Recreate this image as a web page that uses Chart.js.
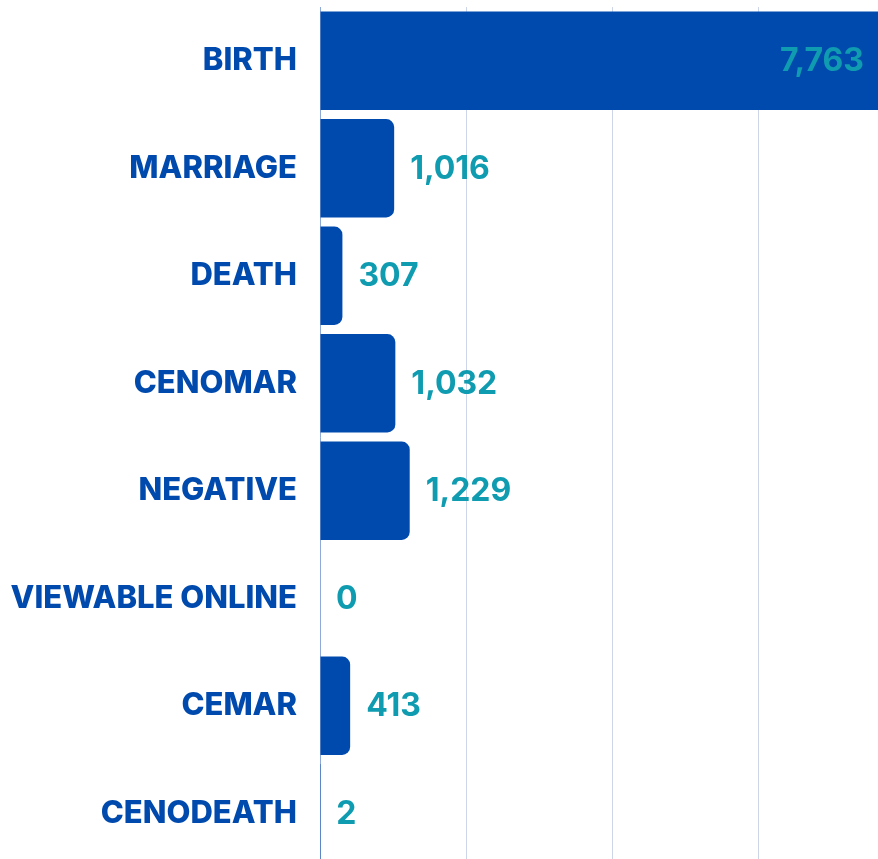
<!DOCTYPE html>
<html>
<head>
<meta charset="utf-8">
<script src="https://cdn.jsdelivr.net/npm/chart.js@4/dist/chart.umd.min.js"></script>
<style>
  html, body { margin: 0; padding: 0; background: #ffffff; overflow: hidden; width: 878px; height: 859px; }
  #wrap { position: absolute; left: 0; top: 0; width: 904px; height: 867px; }
</style>
</head>
<body>
<div id="wrap"><canvas id="c" width="904" height="867"></canvas></div>
<script>
const categories = ['BIRTH', 'MARRIAGE', 'DEATH', 'CENOMAR', 'NEGATIVE', 'VIEWABLE ONLINE', 'CEMAR', 'CENODEATH'];
const values = [7763, 1016, 307, 1032, 1229, 0, 413, 2];
const xMin = 0;
const xMax = 8000;
const xStep = 2000;

const BLUE = '#004aad';
const TEAL = '#0f9bb0';

const valueLabels = {
  id: 'valueLabels',
  afterDatasetsDraw(chart) {
    const ctx = chart.ctx;
    const meta = chart.getDatasetMeta(0);
    ctx.save();
    ctx.font = '700 32px Inter';
    ctx.fillStyle = TEAL;
    ctx.textBaseline = 'middle';
    meta.data.forEach((bar, i) => {
      const txt = values[i].toLocaleString('en-US');
      const w = ctx.measureText(txt).width;
      const gap = 16;
      if (bar.x + gap + w > 878) {
        ctx.textAlign = 'right';
        ctx.fillText(txt, Math.min(bar.x, 878) - 14, bar.y + 1);
      } else {
        ctx.textAlign = 'left';
        ctx.fillText(txt, bar.x + gap, bar.y + 1);
      }
    });
    ctx.restore();
  }
};

new Chart(document.getElementById('c'), {
  type: 'bar',
  data: {
    labels: categories,
    datasets: [{
      data: values,
      backgroundColor: BLUE,
      borderRadius: 8,
      borderSkipped: 'start',
      barPercentage: 0.915,
      categoryPercentage: 1.0
    }]
  },
  options: {
    indexAxis: 'y',
    responsive: false,
    animation: false,
    events: [],
    layout: { padding: { top: 7, right: 0, bottom: 0, left: 0 } },
    plugins: { legend: { display: false }, tooltip: { enabled: false } },
    scales: {
      x: {
        min: xMin, max: xMax,
        ticks: { display: false, stepSize: xStep },
        grid: { color: '#ccd6e8', lineWidth: 1, drawTicks: false },
        border: { display: false }
      },
      y: {
        afterFit(s) { s.width = 320; s.paddingTop = 0; s.paddingBottom = 0; },
        ticks: { color: BLUE, font: { family: 'Inter', size: 31, weight: '800' }, padding: 23 },
        grid: { display: false, drawTicks: false },
        border: { display: true, color: '#8eaad9', width: 1 }
      }
    }
  },
  plugins: [valueLabels]
});
</script>
</body>
</html>
